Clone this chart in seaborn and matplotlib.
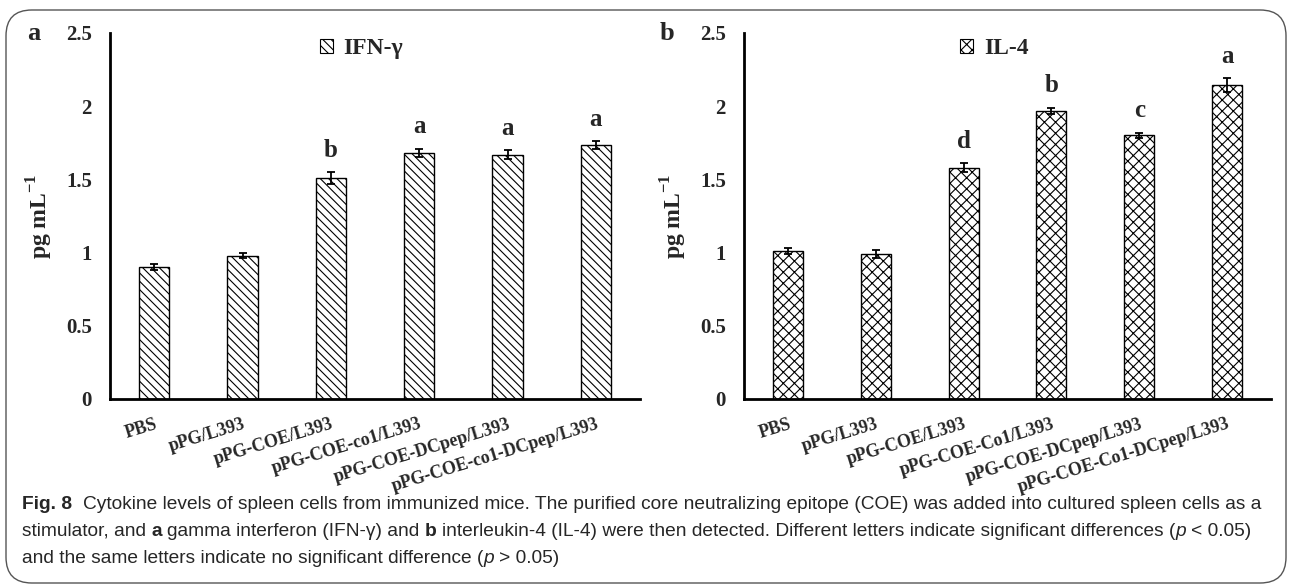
import numpy as np
import pandas as pd
import matplotlib
matplotlib.use('Agg')
import matplotlib.pyplot as plt
import matplotlib.transforms as mtransforms
from matplotlib.patches import Patch, FancyBboxPatch
import seaborn as sns

# data
groups_a = ['PBS', 'pPG/L393', 'pPG-COE/L393', 'pPG-COE-co1/L393',
            'pPG-COE-DCpep/L393', 'pPG-COE-co1-DCpep/L393']
groups_b = ['PBS', 'pPG/L393', 'pPG-COE/L393', 'pPG-COE-Co1/L393',
            'pPG-COE-DCpep/L393', 'pPG-COE-Co1-DCpep/L393']
ifn_mean = [0.90, 0.98, 1.51, 1.68, 1.67, 1.735]
ifn_err = [0.02, 0.015, 0.04, 0.03, 0.03, 0.025]
ifn_letters = ['', '', 'b', 'a', 'a', 'a']
il4_mean = [1.01, 0.99, 1.58, 1.97, 1.80, 2.145]
il4_err = [0.02, 0.025, 0.03, 0.02, 0.02, 0.045]
il4_letters = ['', '', 'd', 'b', 'c', 'a']
y_ticks = [0, 0.5, 1, 1.5, 2, 2.5]
y_ticklabels = ['0', '0.5', '1', '1.5', '2', '2.5']

sns.set_style('white')
plt.rcParams['font.family'] = ['Liberation Serif', 'DejaVu Serif']
plt.rcParams['font.weight'] = 'bold'
plt.rcParams['mathtext.fontset'] = 'custom'
plt.rcParams['mathtext.rm'] = 'Liberation Serif'
plt.rcParams['mathtext.bf'] = 'Liberation Serif:bold'
plt.rcParams['hatch.linewidth'] = 0.8

W, H = 1292, 588
fig = plt.figure(figsize=(W / 100, H / 100), dpi=100)

# rounded frame around the whole figure
frame = FancyBboxPatch((6 / W, 5 / H), 1 - 12 / W, 1 - 15 / H,
                       boxstyle='round,pad=0,rounding_size=0.02',
                       transform=fig.transFigure, facecolor='none',
                       edgecolor='#555555', linewidth=1.0, mutation_aspect=W / H)
fig.patches.append(frame)


def panel(rect, groups, means, errs, letters, hatch, legend_label, tag, tag_x):
    ax = fig.add_axes(rect)
    df = pd.DataFrame({'group': groups, 'value': means})
    sns.barplot(data=df, x='group', y='value', order=groups, color='white',
                edgecolor='black', linewidth=1.0, width=0.34, hatch=hatch,
                errorbar=None, saturation=1, ax=ax)
    for p in ax.patches:
        p.set_facecolor('white')
        p.set_edgecolor('black')
        p.set_hatch(hatch)
    x = np.arange(len(groups))
    ax.errorbar(x, means, yerr=errs, fmt='none', ecolor='black',
                elinewidth=1.3, capsize=3, capthick=1.3)
    for xi, m, e, lab in zip(x, means, errs, letters):
        if lab:
            ax.text(xi, m + e + 0.07, lab, ha='center', va='bottom',
                    fontsize=18, fontweight='bold')

    ax.set_xlim(-0.5, len(groups) - 0.5)
    ax.set_ylim(0, 2.5)
    ax.set_yticks(y_ticks)
    ax.set_yticklabels(y_ticklabels, fontsize=15, fontweight='bold')
    ax.set_xticks(x)
    ax.set_xticklabels(groups, rotation=17, ha='right', rotation_mode='anchor',
                       fontsize=13, fontweight='bold')
    offset = mtransforms.ScaledTranslation(9 / 72, 0, fig.dpi_scale_trans)
    for t in ax.get_xticklabels():
        t.set_transform(t.get_transform() + offset)
    ax.set_xticks(np.arange(len(groups) + 1) - 0.5, minor=True)
    ax.tick_params(axis='x', which='major', length=0, pad=12)
    ax.tick_params(axis='x', which='minor', direction='in', length=6, width=2)
    ax.tick_params(axis='y', direction='in', length=6, width=2, pad=13)
    sns.despine(ax=ax)
    for s in ['left', 'bottom']:
        ax.spines[s].set_linewidth(2)
        ax.spines[s].set_color('black')
    ax.set_xlabel('')
    ax.set_ylabel(r'pg mL$^{\mathbf{-1}}$', fontsize=17, fontweight='bold', labelpad=8)

    handle = Patch(facecolor='white', edgecolor='black', hatch=hatch, linewidth=0.8)
    ax.legend([handle], [legend_label], loc='center', bbox_to_anchor=(0.475, 0.957),
              frameon=False, handlelength=0.55, handleheight=0.55, handletextpad=0.45,
              prop={'family': 'Liberation Serif', 'weight': 'bold', 'size': 17})
    fig.text(tag_x / W, 1 - 33 / H, tag, ha='center', va='center',
             fontsize=19, fontweight='bold')
    return ax


ax_a = panel([110 / W, 1 - 399 / H, 530 / W, 366 / H], groups_a, ifn_mean, ifn_err,
             ifn_letters, '\\\\\\\\', 'IFN-γ', 'a', 34)
ax_b = panel([744 / W, 1 - 399 / H, 527 / W, 366 / H], groups_b, il4_mean, il4_err,
             il4_letters, 'xxx', 'IL-4', 'b', 667)

# caption with mixed styles
cap_family = ['Liberation Sans', 'DejaVu Sans']
renderer = fig.canvas.get_renderer()

line1 = [('Fig. 8', 'bold', 'normal'),
         ('  Cytokine levels of spleen cells from immunized mice. The purified core '
          'neutralizing epitope (COE) was added into cultured spleen cells as a',
          'normal', 'normal')]
line2 = [('stimulator, and ', 'normal', 'normal'), ('a', 'bold', 'normal'),
         (' gamma interferon (IFN-γ) and ', 'normal', 'normal'), ('b', 'bold', 'normal'),
         (' interleukin-4 (IL-4) were then detected. Different letters indicate '
          'significant differences (', 'normal', 'normal'),
         ('p', 'normal', 'italic'), (' < 0.05)', 'normal', 'normal')]
line3 = [('and the same letters indicate no significant difference (', 'normal', 'normal'),
         ('p', 'normal', 'italic'), (' > 0.05)', 'normal', 'normal')]


def width_of(s, size, **kw):
    t = fig.text(0, 0, s, fontsize=size, family=cap_family, **kw)
    w = t.get_window_extent(renderer).width
    t.remove()
    return w


def caption_line(pieces, y, size, draw=True):
    space_w = width_of('a a', size) - width_of('aa', size)
    x = 22
    for s, weight, style in pieces:
        lead = len(s) - len(s.lstrip(' '))
        trail = len(s) - len(s.rstrip(' '))
        core = s.strip(' ')
        x += lead * space_w
        t = fig.text(x / W, 1 - y / H, core, fontsize=size, family=cap_family,
                     fontweight=weight, fontstyle=style, va='baseline', ha='left')
        x += t.get_window_extent(renderer).width + trail * space_w
        if not draw:
            t.remove()
    return x


# pick the caption size so the longest line spans the same width as in the figure
base = 12
end = caption_line(line1, 0, base, draw=False)
cap_size = base * (1268 - 22) / (end - 22)

caption_line(line1, 509, cap_size)
caption_line(line2, 536, cap_size)
caption_line(line3, 563, cap_size)

fig.savefig('out.png', dpi=100)
